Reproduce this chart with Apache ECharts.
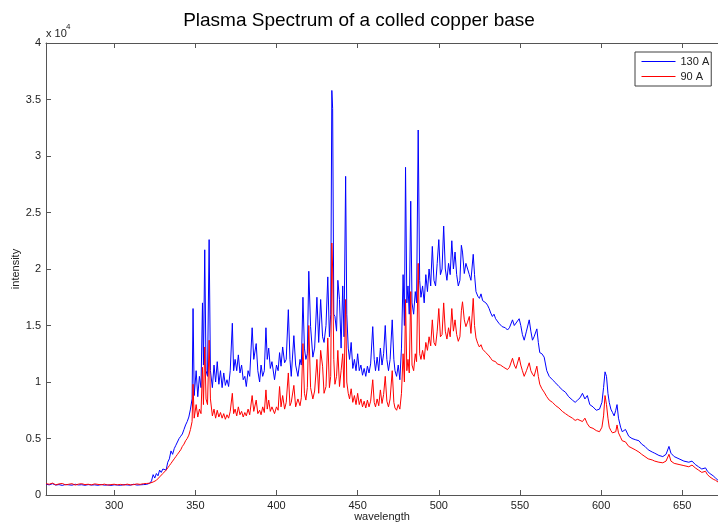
<!DOCTYPE html>
<html>
<head>
    <meta charset="utf-8">
    <title>Plasma Spectrum of a colled copper base</title>
    <script src="https://cdn.jsdelivr.net/npm/echarts@6/dist/echarts.min.js"></script>
    <style>
        body { margin: 0; background: #fff; }
    </style>
</head>
<body>
    <div id="main" style="width: 718px;height:523px;"></div>

    <script type="text/javascript">
        // wavelength (nm)
        const wavelength = [
            258, 260, 262, 264, 266, 268, 270, 272, 274, 276,
            278, 280, 282, 284, 286, 288, 290, 292, 294, 296,
            298, 300, 302, 304, 306, 308, 310, 312, 314, 316,
            318, 320, 322, 323, 324, 325, 326, 327, 328, 329,
            330, 331, 332, 333, 334, 335, 336, 337, 338, 339,
            340, 341, 342, 343, 344, 345, 346, 347, 348, 348.6,
            349.3, 350.5, 351.5, 352.5, 353.5, 354.4, 355, 355.8, 356.6, 357.5,
            358.5, 359.3, 360.5, 361.5, 362.5, 363.5, 364.5, 365.5, 366.5, 367.5,
            368.5, 369.5, 370.5, 371.5, 372.8, 373.6, 374.5, 375.5, 376.5, 377.5,
            378.5, 379.5, 380.5, 381.4, 382.5, 383.5, 385, 386, 387.5, 388.5,
            389.6, 390.5, 391.5, 392.5, 393.5, 394.3, 395.2, 396.2, 397.2, 398.8,
            400, 401, 401.9, 402.8, 403.8, 405, 406, 407.3, 408.3, 409.1,
            410.7, 411.8, 413.2, 414.5, 415.3, 416.3, 417.2, 418.1, 419, 419.9,
            421, 422.4, 423.5, 424.9, 426, 427.2, 428.4, 429.3, 430.5, 431.6,
            432.6, 433.4, 434.1, 434.6, 435.3, 436, 437, 437.8, 438.8, 439.8,
            440.8, 441.6, 442.6, 443.3, 444.2, 445, 446, 447, 448, 449,
            450, 451, 452, 453, 454, 455, 456, 457, 458, 459.3,
            460.2, 461, 462, 463, 464, 465, 466, 467, 468, 469,
            470, 471.3, 472.3, 473, 474, 475, 476, 477, 478, 478.8,
            479.5, 480.3, 481, 481.8, 482.7, 483.5, 484.5, 485.5, 486.3, 487.3,
            488.2, 489, 490, 491, 492, 493, 494, 495, 496, 497,
            498, 499, 500, 501, 502, 503, 504, 505, 506, 507,
            508, 509, 510, 511, 512, 513, 513.9, 514.6, 515.7, 516.7,
            517.7, 518.8, 519.8, 521.2, 522, 522.9, 524, 525, 526, 527,
            528, 529, 530, 531, 532, 533, 534, 535, 536, 537,
            538, 539, 540, 541, 542.3, 543.5, 545.4, 546.5, 547.5, 549.5,
            550.5, 551.5, 552.6, 554, 555.7, 556.7, 557.7, 558.7, 560.4, 561.3,
            562.2, 563.5, 564.9, 566.5, 568, 570, 572.1, 574, 576.1, 578,
            580, 582.3, 584, 585.5, 587, 588.5, 590, 591.5, 593, 595,
            597, 599, 600.5, 601.5, 602.4, 603.3, 604.2, 605, 606, 607,
            608, 609, 609.8, 610.7, 612, 613, 615, 617, 619, 621,
            623.3, 625, 627, 629, 631.5, 633, 635.6, 638, 640, 641.8,
            643, 645, 648, 651, 654, 656, 658, 660, 662, 664.3,
            665.5, 667, 669, 670.5, 672
        ];

        // 130 A (blue)
        const intensity130 = [
            950, 900, 1000, 880, 920, 850, 930, 900, 870, 950,
            890, 910, 860, 920, 880, 900, 860, 930, 870, 890,
            850, 900, 880, 860, 920, 890, 870, 950, 880, 900,
            920, 940, 1050, 1250, 1800, 1500, 1900, 1700, 2200, 2000,
            2300, 2400, 2200, 2900, 3200, 3900, 3600, 4100, 4400, 4300,
            5000, 5200, 5400, 5800, 6200, 6500, 6900, 7600, 8500, 16500,
            8800, 11000, 8700, 10500, 9500, 17000, 11500, 21700, 11000, 10500,
            22600, 11000, 9500, 11500, 10000, 11800, 9800, 11000, 9500, 10800,
            9700, 10200, 9600, 11000, 15200, 11000, 12000, 11000, 12400, 10800,
            11500, 10200, 10500, 9600, 11000, 10500, 14800, 12000, 13400, 11000,
            10000, 11500, 10500, 11000, 14800, 12000, 13000, 11200, 11800, 10200,
            11500, 11000, 12600, 11400, 13100, 11700, 12000, 16400, 12000, 10500,
            14100, 11500, 10500, 12000, 11500, 17500, 13000, 12000, 12500, 19800,
            14900, 12200, 13000, 17500, 13500, 17300, 14000, 13500, 15000, 19300,
            14000, 16000, 35800, 34200, 16000, 15800, 14500, 19000, 17300, 13000,
            18500, 14000, 28200, 16000, 13000, 12000, 13500, 11200, 12000, 11000,
            12500, 11000, 11500, 10600, 11200, 10500, 11400, 10800, 11600, 14900,
            12000, 11000, 12200, 11000, 13000, 11500, 12500, 15000, 12000, 11000,
            12000, 15500, 12000, 11000, 10500, 11500, 10200, 13000, 19500, 15000,
            29000, 17000, 18500, 16000, 26000, 17000, 16000, 18000, 17000, 32300,
            19000, 17500, 18500, 17000, 19500, 18000, 20000, 18500, 22000, 19000,
            18500, 20500, 22600, 19500, 20000, 23800, 20000, 19000, 20500, 19500,
            22500, 20000, 21500, 19500, 18500, 19000, 22100, 21500, 19600, 20500,
            20600, 19500, 19000, 21300, 19500, 18000, 17600, 17400, 17800, 17200,
            17300, 17000, 16800, 16500, 16100, 15800, 16000, 15600, 15400, 15200,
            15300, 14900, 15000, 14800, 14600, 14800, 15500, 15000, 14900, 15600,
            15000, 14200, 13700, 14500, 15500, 14500, 13700, 14000, 14700, 13500,
            12600, 12500, 12200, 11000, 10500, 10200, 9900, 9600, 9300, 9100,
            8700, 8400, 8200, 8400, 8600, 9000, 8500, 8800, 8000, 7800,
            7500, 7600, 8200, 9500, 10900, 10500, 9000, 8200, 7600, 7300,
            7000, 7500, 8000, 6800, 6000, 5600, 5800, 5200, 5000, 4900,
            4800, 4500, 4300, 4000, 3800, 3700, 3500, 3400, 3600, 4300,
            3700, 3400, 3200, 3000, 2900, 3000, 2700, 2500, 2300, 2400,
            2100, 1900, 1700, 1500, 1300
        ];

        // 90 A (red)
        const intensity90 = [
            1000, 950, 1050, 900, 980, 1020, 900, 950, 1000, 880,
            960, 1000, 920, 950, 900, 980, 940, 900, 960, 880,
            920, 950, 900, 940, 880, 960, 900, 920, 980, 940,
            1000, 1020, 1050, 1100, 1150, 1200, 1300, 1450, 1600, 1750,
            1900, 2000, 2200, 2400, 2600, 2800, 3000, 3200, 3400, 3600,
            3800, 4000, 4300, 4500, 4800, 5000, 5300, 5800, 6500, 9800,
            6800, 8000, 6900, 7600, 7200, 11300, 8000, 13100, 8500, 8000,
            13700, 8500, 7000, 7600, 6800, 7500, 6900, 7300, 6800, 7200,
            6700, 7100, 6800, 7400, 9000, 7200, 7600, 7000, 7800, 7100,
            7400, 6900, 7300, 7000, 7600, 7100, 8800, 7400, 8400, 7200,
            7500, 7100, 7800, 7300, 9300, 7600, 8400, 7400, 7800, 7200,
            7800, 7500, 9600, 7800, 8800, 7600, 8200, 10800, 7900, 8200,
            9700, 7800, 8500, 7900, 8600, 13400, 9000, 8400, 9500, 15000,
            9500, 8500, 9200, 12000, 9000, 12800, 11400, 9000, 9600, 13900,
            9500, 10500, 22300, 20000, 12000, 9800, 10500, 12800, 9600, 11000,
            12500, 9500, 17300, 10000, 9000, 8500, 9400, 8200, 8800, 8000,
            9000, 8000, 8500, 7800, 8300, 7700, 8400, 7800, 8300, 10200,
            8200, 7800, 8500, 7900, 9300, 8100, 8900, 10500, 8300, 7800,
            8500, 11000, 8200, 7700, 7500, 8000, 7600, 9000, 12500, 10000,
            17300, 11000, 12000, 10800, 18000, 11500, 11000, 12500, 11800, 20500,
            12500, 12000, 12800, 12000, 13500, 12800, 14000, 13200, 15500, 13500,
            13200, 14500, 16500, 14000, 14200, 17000, 14500, 13800, 14800, 14000,
            16500, 14500, 15500, 14200, 13600, 14000, 16300, 17100, 15500, 14900,
            15300, 15800, 14300, 17400, 15000, 13900, 13400, 13100, 13300, 12900,
            12800, 12600, 12500, 12300, 12100, 11900, 12000, 11800, 11600, 11500,
            11500, 11400, 11300, 11200, 11100, 11300, 12100, 11500, 11200, 12200,
            11500, 11000, 10500, 11000, 11700, 11000, 10700, 10500, 11400, 10500,
            9800, 9400, 9100, 8700, 8400, 8200, 7900, 7700, 7400, 7200,
            7000, 6800, 6600, 6700, 6600, 6500, 6800, 6300, 6000, 5900,
            5700, 5600, 6000, 7000, 8800, 8000, 6800, 6000, 5700, 5500,
            5400, 5600, 6200, 5500, 5100, 4800, 4700, 4300, 4150, 4000,
            3800, 3600, 3400, 3200, 3100, 3000, 2900, 2850, 3000, 3600,
            3000, 2800, 2700, 2600, 2500, 2650, 2400, 2200, 2000, 2100,
            1800, 1600, 1400, 1300, 1150
        ];

        const xTicks = [300, 350, 400, 450, 500, 550, 600, 650];

        const font = '"Liberation Sans", Arial, sans-serif';
        const axisColor = '#555';
        const textColor = '#222';
        const blue = '#0000ff';
        const red = '#ff0000';

        var myChart = echarts.init(document.getElementById('main'));

        var option = {
            animation: false,
            backgroundColor: '#fff',
            textStyle: { fontFamily: font },
            title: {
                text: 'Plasma Spectrum of a colled copper base',
                left: 'center',
                top: 6,
                textStyle: { color: '#000', fontSize: 19, fontWeight: 'normal', fontFamily: font }
            },
            graphic: [
                { type: 'text', left: 46, top: 28, style: { text: 'x 10', fontSize: 11, fill: textColor, fontFamily: font } },
                { type: 'text', left: 66, top: 23, style: { text: '4', fontSize: 8, fill: textColor, fontFamily: font } }
            ],
            legend: {
                data: [
                    { name: '130 A', lineStyle: { color: blue, width: 1 } },
                    { name: '90 A', lineStyle: { color: red, width: 1 } }
                ],
                orient: 'vertical',
                left: 635,
                top: 52,
                itemWidth: 34,
                itemHeight: 12,
                itemGap: 4,
                padding: [4, 2, 4, 6],
                borderColor: '#404040',
                borderWidth: 1,
                backgroundColor: '#fff',
                itemStyle: { opacity: 0 },
                textStyle: { fontSize: 11, color: textColor, fontFamily: font }
            },
            grid: { left: 46, right: 0, top: 43, bottom: 28, containLabel: false, outerBoundsMode: 'none' },
            xAxis: [
                {
                    type: 'value',
                    min: 258,
                    max: 672,
                    name: 'wavelength',
                    nameLocation: 'middle',
                    nameGap: 16,
                    nameMoveOverlap: false,
                    nameTextStyle: { fontSize: 11, color: textColor },
                    axisLine: { show: true, lineStyle: { color: axisColor } },
                    axisTick: { show: true, inside: true, length: 5, customValues: xTicks, lineStyle: { color: axisColor } },
                    axisLabel: { customValues: xTicks, fontSize: 11, color: textColor, margin: 5 },
                    splitLine: { show: false }
                },
                {
                    type: 'value',
                    position: 'top',
                    min: 258,
                    max: 672,
                    axisLine: { show: true, lineStyle: { color: axisColor } },
                    axisTick: { show: true, inside: true, length: 5, customValues: xTicks, lineStyle: { color: axisColor } },
                    axisLabel: { show: false },
                    splitLine: { show: false }
                }
            ],
            yAxis: {
                type: 'value',
                min: 0,
                max: 40000,
                interval: 5000,
                name: 'intensity',
                nameLocation: 'middle',
                nameGap: 25,
                nameMoveOverlap: false,
                nameTextStyle: { fontSize: 11, color: textColor },
                axisLine: { show: true, lineStyle: { color: axisColor } },
                axisTick: { show: true, inside: true, length: 5, lineStyle: { color: axisColor } },
                axisLabel: {
                    fontSize: 11,
                    color: textColor,
                    margin: 5,
                    formatter: function (v) { return String(v / 10000); }
                },
                splitLine: { show: false }
            },
            series: [
                {
                    name: '130 A',
                    type: 'line',
                    symbol: 'none',
                    showSymbol: false,
                    color: blue,
                    lineStyle: { width: 1, color: blue },
                    data: wavelength.map((w, i) => [w, intensity130[i]])
                },
                {
                    name: '90 A',
                    type: 'line',
                    symbol: 'none',
                    showSymbol: false,
                    color: red,
                    lineStyle: { width: 1, color: red },
                    data: wavelength.map((w, i) => [w, intensity90[i]])
                }
            ]
        };

        myChart.setOption(option);
    </script>
</body>
</html>
